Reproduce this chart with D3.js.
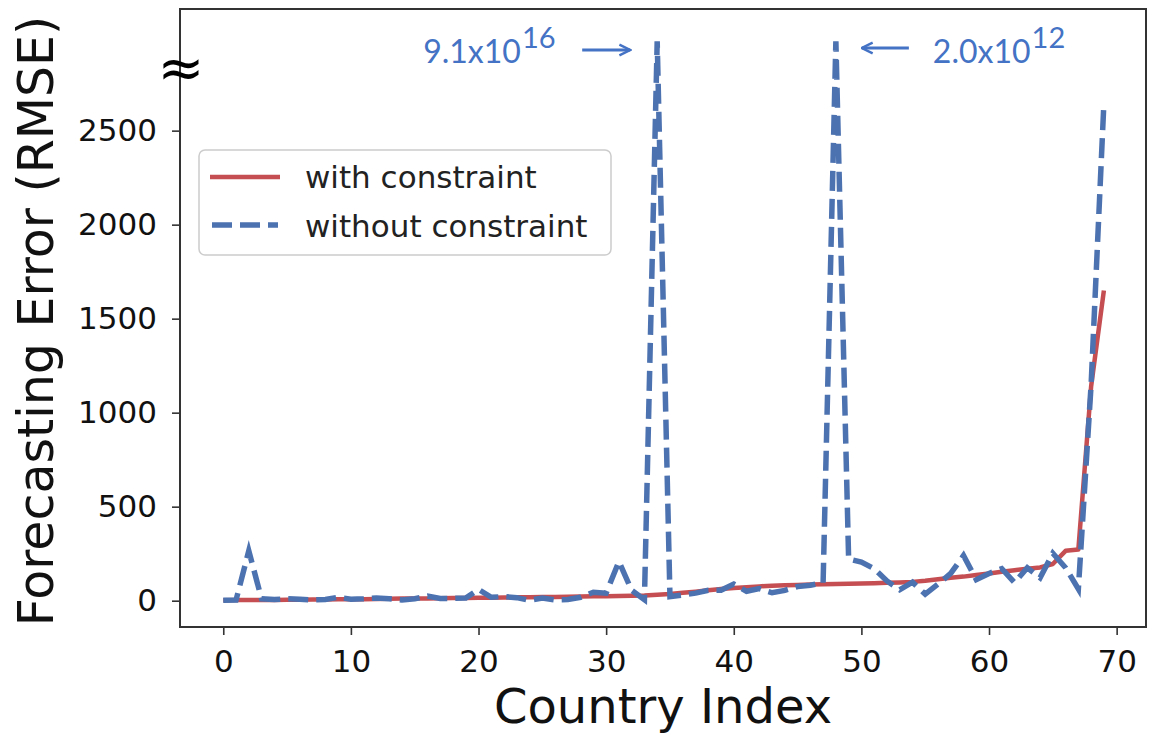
<!DOCTYPE html>
<html>
<head>
<meta charset="utf-8">
<script src="https://cdn.jsdelivr.net/npm/d3@7"></script>
<style>
  html, body { margin: 0; padding: 0; background: #fff; }
  svg { display: block; }
</style>
</head>
<body>
<svg id="chart" width="1155" height="736"></svg>
<script>
// ---------------- data ----------------
const countryIndex = d3.range(0, 70);

const withConstraint = [
  2, 3, 3, 4, 4, 5, 5, 6, 6, 7,
  8, 8, 9, 10, 11, 12, 12, 13, 14, 14,
  15, 16, 17, 18, 18, 19, 20, 21, 22, 23,
  24, 25, 26, 28, 32, 36, 42, 48, 55, 62,
  68, 72, 76, 80, 82, 84, 86, 88, 89, 90,
  91, 93, 95, 97, 100, 106, 114, 122, 128, 136,
  145, 154, 162, 170, 177, 195, 265, 272, 1140, 1650
];

const withoutConstraint = [
  2, 3, 265, 10, 6, 10, 8, 4, 6, 18,
  8, 10, 14, 10, 4, 10, 24, 12, 12, 14,
  60, 18, 22, 16, 2, 14, 4, 6, 18, 45,
  40, 208, 55, 5, 9.1e16, 22, 30, 40, 55, 55,
  88, 50, 64, 42, 55, 75, 82, 95, 2.0e12, 222,
  205, 170, 105, 58, 98, 35, 88, 145, 240, 112,
  145, 170, 96, 175, 122, 252, 175, 62, 1150, 2645
];

const xTicks = [0, 10, 20, 30, 40, 50, 60, 70];
const yTicks = [0, 500, 1000, 1500, 2000, 2500];
const seriesNames = ["with constraint", "without constraint"];
const peakLabels = [
  { index: 34, mant: "9.1x10", exp: "16", side: "left" },
  { index: 48, mant: "2.0x10", exp: "12", side: "right" }
];
// values above the axis break are drawn at the break level
const breakCap = 2975;

// ---------------- layout ----------------
const plot = { left: 180, right: 1146, top: 9, bottom: 627 };
const RED = "#C44E52", BLUE = "#4C72B0", ANN = "#4472C4";

const svg = d3.select("#chart");

const x = d3.scaleLinear().domain([-3.39, 72.3]).range([plot.left, plot.right]);
const y = d3.scaleLinear().domain([-140, 3147]).range([plot.bottom, plot.top]);
const yDisp = v => y(Math.min(v, breakCap));

// axes
const xAxis = d3.axisBottom(x).tickValues(xTicks).tickSize(8).tickPadding(15).tickFormat(d3.format("d"));
const yAxis = d3.axisLeft(y).tickValues(yTicks).tickSize(8).tickPadding(15).tickFormat(d3.format("d"));

const gx = svg.append("g").attr("transform", `translate(0,${plot.bottom})`).call(xAxis);
const gy = svg.append("g").attr("transform", `translate(${plot.left},0)`).call(yAxis);
[gx, gy].forEach(g => {
  g.select(".domain").remove();
  g.selectAll(".tick line").attr("stroke", "#333").attr("stroke-width", 1.6);
  g.selectAll(".tick text")
    .attr("fill", "#111")
    .style("font-family", "'DejaVu Sans', sans-serif")
    .style("font-size", "31px");
});

// clip for data
svg.append("clipPath").attr("id", "clip")
  .append("rect")
  .attr("x", plot.left).attr("y", plot.top)
  .attr("width", plot.right - plot.left).attr("height", plot.bottom - plot.top);

const lineGen = d3.line().x((d, i) => x(countryIndex[i])).y(d => yDisp(d));

const gData = svg.append("g").attr("clip-path", "url(#clip)");
gData.append("path")
  .datum(withConstraint)
  .attr("d", lineGen)
  .attr("fill", "none")
  .attr("stroke", RED)
  .attr("stroke-width", 4.5)
  .attr("stroke-linejoin", "round");

gData.append("path")
  .datum(withoutConstraint)
  .attr("d", lineGen)
  .attr("fill", "none")
  .attr("stroke", BLUE)
  .attr("stroke-width", 5.5)
  .attr("stroke-dasharray", "20,8");

// frame
svg.append("rect")
  .attr("x", plot.left).attr("y", plot.top)
  .attr("width", plot.right - plot.left).attr("height", plot.bottom - plot.top)
  .attr("fill", "none").attr("stroke", "#333").attr("stroke-width", 2);

// axis break symbol
svg.append("text")
  .attr("x", plot.left + 1).attr("y", 87)
  .attr("text-anchor", "middle")
  .style("font-family", "'DejaVu Sans', sans-serif")
  .style("font-size", "56px")
  .attr("fill", "#000")
  .text("≈");

// axis labels
svg.append("text")
  .attr("x", (plot.left + plot.right) / 2).attr("y", 723)
  .attr("text-anchor", "middle")
  .style("font-family", "'DejaVu Sans', sans-serif")
  .style("font-size", "48px")
  .attr("fill", "#111")
  .text("Country Index");

svg.append("text")
  .attr("transform", "translate(53,321) rotate(-90)")
  .attr("text-anchor", "middle")
  .style("font-family", "'DejaVu Sans', sans-serif")
  .style("font-size", "49px")
  .attr("fill", "#111")
  .text("Forecasting Error (RMSE)");

// legend
const lg = svg.append("g");
lg.append("rect")
  .attr("x", 199).attr("y", 150).attr("width", 412).attr("height", 105)
  .attr("rx", 6).attr("ry", 6)
  .attr("fill", "#fff").attr("fill-opacity", 0.85)
  .attr("stroke", "#ccc").attr("stroke-width", 1.5);
lg.append("line").attr("x1", 210).attr("x2", 280).attr("y1", 177).attr("y2", 177)
  .attr("stroke", RED).attr("stroke-width", 4.5);
lg.append("line").attr("x1", 212).attr("x2", 278).attr("y1", 225).attr("y2", 225)
  .attr("stroke", BLUE).attr("stroke-width", 5.5).attr("stroke-dasharray", "20,8");
lg.selectAll("text.leg").data(seriesNames).enter().append("text")
  .attr("class", "leg")
  .attr("x", 305).attr("y", (d, i) => 188 + i * 49)
  .style("font-family", "'DejaVu Sans', sans-serif")
  .style("font-size", "31px")
  .attr("fill", "#222")
  .text(d => d);

// peak annotations
const defs = svg.append("defs");
defs.append("marker").attr("id", "arrow")
  .attr("viewBox", "0 0 10 10").attr("refX", 9).attr("refY", 5)
  .attr("markerWidth", 4.5).attr("markerHeight", 4.5).attr("orient", "auto")
  .append("path").attr("d", "M1,1 L9,5 L1,9").attr("fill", "none")
  .attr("stroke", ANN).attr("stroke-width", 1.8);

peakLabels.forEach(p => {
  const px = x(p.index);
  const ay = p.side === "left" ? 50 : 48;
  let x1, x2, tx;
  if (p.side === "left") {
    x1 = px - 75; x2 = px - 27; tx = px - 234;
  } else {
    x1 = px + 73; x2 = px + 26; tx = px + 97;
  }
  svg.append("line")
    .attr("x1", x1).attr("x2", x2).attr("y1", ay).attr("y2", ay)
    .attr("stroke", ANN).attr("stroke-width", 3)
    .attr("marker-end", "url(#arrow)");
  const t = svg.append("text")
    .attr("x", tx).attr("y", 63)
    .style("font-family", "Lato, 'Open Sans', sans-serif")
    .attr("fill", ANN);
  t.append("tspan").style("font-size", "32px").text(p.mant);
  t.append("tspan").attr("dy", -15).attr("dx", 1).style("font-size", "29px").text(p.exp);
});
</script>
</body>
</html>
